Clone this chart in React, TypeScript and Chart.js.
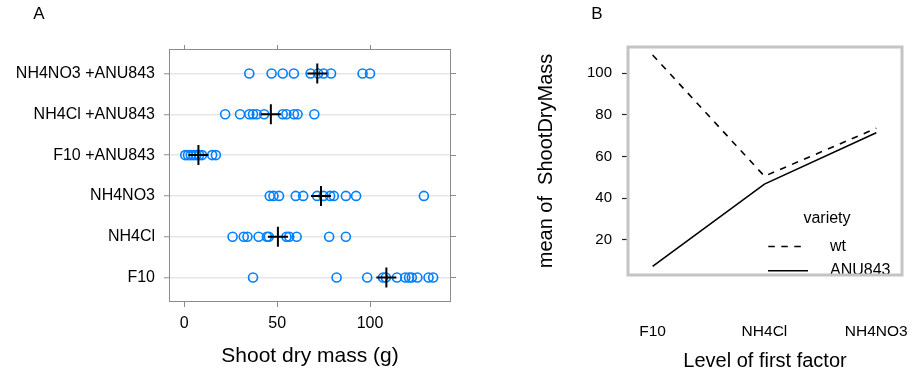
import React, { useEffect, useRef } from "react";
import { Chart, registerables } from "chart.js";

Chart.register(...registerables);

const FONT = "'Liberation Sans', Arial, Helvetica, sans-serif";

// ---------- Panel A data ----------
const dotCategories = ["F10", "NH4Cl", "NH4NO3", "F10 +ANU843", "NH4Cl +ANU843", "NH4NO3 +ANU843"];
const massF10 = [37, 82, 98.5, 107, 108.5, 114.5, 119, 121, 122.5, 125.5, 131.5, 134];
const massNH4Cl = [26, 32, 34, 40, 44.5, 45.5, 55, 56.5, 60.5, 78, 87];
const massNH4NO3 = [46, 48, 51, 60, 64, 71.5, 75, 78.5, 80.5, 87, 92.5, 129];
const massF10ANU = [0.5, 2, 3.5, 5, 6.5, 8, 9.5, 15, 17];
const massNH4ClANU = [22, 30, 35, 37, 39, 43, 53, 55, 59, 61, 70];
const massNH4NO3ANU = [35, 47, 53, 59, 68, 72, 75, 79, 96, 100];
const groupMeans = [108.8, 50.4, 73.6, 7.6, 46.6, 71.6];
const xTicksA = [0, 50, 100];

// ---------- Panel B data ----------
const factorLevels = ["F10", "NH4Cl", "NH4NO3"];
const meanWt = [108.8, 50.6, 73.6];
const meanANU843 = [7.3, 46.8, 71.5];
const yTicksB = [20, 40, 60, 80, 100];
const varietyNames = ["wt", "ANU843"];

const TICK_GRAY = "#8c8c8c";

export default function App() {
  const leftRef = useRef<HTMLCanvasElement>(null);
  const rightRef = useRef<HTMLCanvasElement>(null);

  useEffect(() => {
    Chart.defaults.font.family = FONT;
    Chart.defaults.color = "#000";

    const groups = [massF10, massNH4Cl, massNH4NO3, massF10ANU, massNH4ClANU, massNH4NO3ANU];
    const pointData = groups.flatMap((vals, i) => vals.map((v) => ({ x: v, y: i })));
    const meanData = groupMeans.map((v, i) => ({ x: v, y: i }));

    const xMinA = -8.24;
    const xMaxA = 143.6;
    const yMinA = -0.6;
    const yMaxA = 5.6;
    const setXTicksA = (s: any) => {
      s.ticks = xTicksA.map((v) => ({ value: v }));
    };
    const setYTicksA = (s: any) => {
      s.ticks = dotCategories.map((_, i) => ({ value: i }));
    };

    const boxPluginA = {
      id: "boxA",
      afterDraw(chart: any) {
        const { ctx, chartArea: a } = chart;
        ctx.save();
        ctx.strokeStyle = TICK_GRAY;
        ctx.lineWidth = 1;
        ctx.strokeRect(
          Math.round(a.left) + 0.5,
          Math.round(a.top) + 0.5,
          Math.round(a.right - a.left) - 1,
          Math.round(a.bottom - a.top) - 1
        );
        ctx.fillStyle = "#000";
        ctx.font = `17px ${FONT}`;
        ctx.textAlign = "center";
        ctx.textBaseline = "middle";
        ctx.fillText("A", 39, 14);
        ctx.restore();
      },
    };

    const chartA = new Chart(leftRef.current!, {
      type: "scatter",
      data: {
        datasets: [
          {
            label: "mean",
            data: meanData,
            pointStyle: "cross",
            pointRadius: 10,
            pointHoverRadius: 10,
            pointBorderWidth: 2,
            borderColor: "#000",
            backgroundColor: "#000",
            order: 0,
          },
          {
            label: "Shoot dry mass",
            data: pointData,
            pointStyle: "circle",
            pointRadius: 4.5,
            pointHoverRadius: 4.5,
            pointBorderWidth: 1.6,
            borderColor: "#0080ff",
            backgroundColor: "rgba(0,0,0,0)",
            order: 1,
          },
        ],
      },
      options: {
        animation: false,
        responsive: false,
        devicePixelRatio: 1,
        events: [],
        layout: { autoPadding: false, padding: { left: 0, right: 0, top: 45, bottom: 0 } },
        plugins: { legend: { display: false }, tooltip: { enabled: false }, title: { display: false } },
        scales: {
          x: {
            type: "linear",
            position: "bottom",
            min: xMinA,
            max: xMaxA,
            afterBuildTicks: setXTicksA,
            afterFit: (s: any) => {
              s.height = 72;
            },
            ticks: { font: { size: 16 }, color: "#000", padding: 7, maxRotation: 0, autoSkip: false },
            grid: { drawOnChartArea: false, drawTicks: true, tickLength: 5, tickColor: TICK_GRAY, tickWidth: 1 },
            border: { display: false },
            title: {
              display: true,
              text: "Shoot dry mass (g)",
              font: { size: 21 },
              color: "#000",
              padding: { top: 0, bottom: 4.7 },
            },
          },
          xTop: {
            type: "linear",
            axis: "x",
            position: "top",
            min: xMinA,
            max: xMaxA,
            afterBuildTicks: setXTicksA,
            afterFit: (s: any) => {
              s.height = 4;
            },
            ticks: { display: false },
            grid: { drawOnChartArea: false, drawTicks: true, tickLength: 4, tickColor: TICK_GRAY, tickWidth: 1 },
            border: { display: false },
          },
          y: {
            type: "linear",
            position: "left",
            min: yMinA,
            max: yMaxA,
            afterBuildTicks: setYTicksA,
            afterFit: (s: any) => {
              s.width = 169;
            },
            ticks: {
              font: { size: 16 },
              color: "#000",
              padding: 9,
              autoSkip: false,
              callback: (v: any) => dotCategories[Math.round(Number(v))],
            },
            grid: {
              drawOnChartArea: true,
              color: "#e6e6e6",
              lineWidth: 1.5,
              drawTicks: true,
              tickLength: 5,
              tickColor: TICK_GRAY,
              tickWidth: 1,
            },
            border: { display: false },
          },
          yRight: {
            type: "linear",
            axis: "y",
            position: "right",
            min: yMinA,
            max: yMaxA,
            afterBuildTicks: setYTicksA,
            afterFit: (s: any) => {
              s.width = 5;
            },
            ticks: { display: false },
            grid: { drawOnChartArea: false, drawTicks: true, tickLength: 5, tickColor: TICK_GRAY, tickWidth: 1 },
            border: { display: false },
          },
        },
      },
      plugins: [boxPluginA],
    } as any);

    // ---------- Panel B ----------
    const dashWt = [6.5, 6.5];
    const legendB = {
      id: "legendB",
      afterDraw(chart: any) {
        const { ctx, chartArea: a } = chart;
        ctx.save();
        ctx.beginPath();
        ctx.rect(a.left, a.top, a.right - a.left, a.bottom - a.top + 1.5);
        ctx.clip();
        ctx.fillStyle = "#000";
        ctx.font = `16px ${FONT}`;
        ctx.textBaseline = "middle";
        ctx.textAlign = "center";
        ctx.fillText("variety", 371, 218.5);
        ctx.textAlign = "left";
        ctx.fillText(varietyNames[0], 374, 246.5);
        ctx.fillText(varietyNames[1], 374, 270.7);
        ctx.strokeStyle = "#000";
        ctx.lineWidth = 1.6;
        ctx.setLineDash(dashWt);
        ctx.beginPath();
        ctx.moveTo(312.3, 246.5);
        ctx.lineTo(348, 246.5);
        ctx.stroke();
        ctx.setLineDash([]);
        ctx.beginPath();
        ctx.moveTo(312, 270.7);
        ctx.lineTo(352, 270.7);
        ctx.stroke();
        ctx.restore();

        ctx.save();
        ctx.strokeStyle = "#c4c4c4";
        ctx.lineWidth = 3;
        ctx.strokeRect(a.left, a.top, a.right - a.left, a.bottom - a.top);
        ctx.fillStyle = "#000";
        ctx.font = `17px ${FONT}`;
        ctx.textAlign = "center";
        ctx.textBaseline = "middle";
        ctx.fillText("B", 141, 14);
        ctx.restore();
      },
    };

    const chartB = new Chart(rightRef.current!, {
      type: "scatter",
      data: {
        datasets: [
          {
            label: varietyNames[0],
            data: meanWt.map((v, i) => ({ x: i, y: v })),
            showLine: true,
            borderColor: "#000",
            borderWidth: 1.6,
            borderDash: dashWt,
            pointRadius: 0,
            pointHoverRadius: 0,
            tension: 0,
          },
          {
            label: varietyNames[1],
            data: meanANU843.map((v, i) => ({ x: i, y: v })),
            showLine: true,
            borderColor: "#000",
            borderWidth: 1.6,
            pointRadius: 0,
            pointHoverRadius: 0,
            tension: 0,
          },
        ],
      },
      options: {
        animation: false,
        responsive: false,
        devicePixelRatio: 1,
        events: [],
        layout: { autoPadding: false, padding: { left: 0, right: 11, top: 47, bottom: 0 } },
        plugins: { legend: { display: false }, tooltip: { enabled: false }, title: { display: false } },
        scales: {
          x: {
            type: "linear",
            position: "bottom",
            min: -0.22,
            max: 2.23,
            afterBuildTicks: (s: any) => {
              s.ticks = factorLevels.map((_, i) => ({ value: i }));
            },
            afterFit: (s: any) => {
              s.height = 99;
            },
            ticks: {
              font: { size: 15.5 },
              color: "#000",
              padding: 0,
              maxRotation: 0,
              autoSkip: false,
              callback: (v: any) => factorLevels[Math.round(Number(v))],
            },
            grid: {
              display: true,
              drawOnChartArea: false,
              drawTicks: true,
              tickLength: 47.4,
              tickColor: "rgba(0,0,0,0)",
            },
            border: { display: false },
            title: {
              display: true,
              text: "Level of first factor",
              font: { size: 20 },
              color: "#000",
              padding: { top: 0, bottom: 0.3 },
            },
          },
          y: {
            type: "linear",
            position: "left",
            min: 3.2,
            max: 112.6,
            afterBuildTicks: (s: any) => {
              s.ticks = yTicksB.map((v) => ({ value: v }));
            },
            afterFit: (s: any) => {
              s.width = 172;
            },
            ticks: { font: { size: 15 }, color: "#000", padding: 10, autoSkip: false },
            grid: { drawOnChartArea: false, drawTicks: true, tickLength: 6, tickColor: "#222", tickWidth: 1.2 },
            border: { display: false },
            title: {
              display: true,
              text: "mean of  ShootDryMass",
              font: { size: 20 },
              color: "#000",
              padding: { top: 78, bottom: 0 },
            },
          },
        },
      },
      plugins: [legendB],
    } as any);

    return () => {
      chartA.destroy();
      chartB.destroy();
    };
  }, []);

  return (
    <div style={{ position: "absolute", left: 0, top: 0, width: 913, height: 374, background: "#fff" }}>
      <canvas
        ref={leftRef}
        width={456}
        height={374}
        style={{ position: "absolute", left: 0, top: 0, width: 456, height: 374 }}
      />
      <canvas
        ref={rightRef}
        width={457}
        height={374}
        style={{ position: "absolute", left: 456, top: 0, width: 457, height: 374 }}
      />
    </div>
  );
}
